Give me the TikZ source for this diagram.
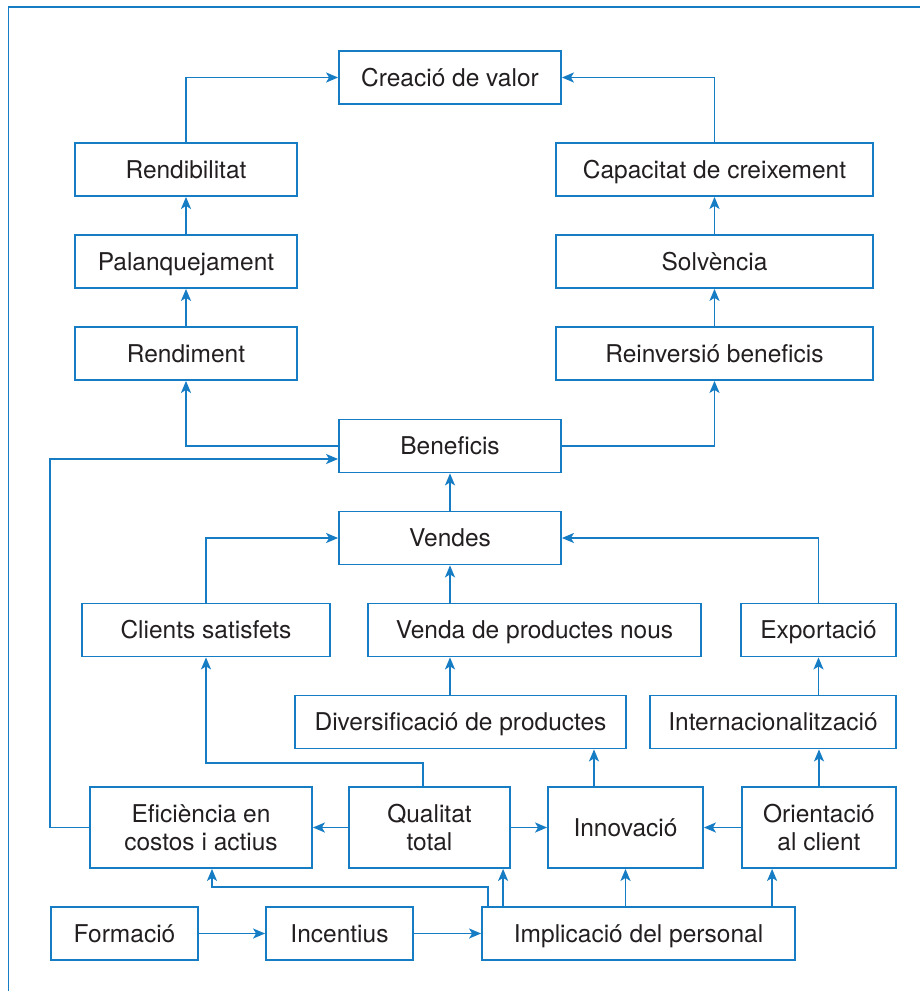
\documentclass[tikz,border=0pt]{standalone}
\usepackage{fontspec}
\setmainfont{TeX Gyre Heros}
\usetikzlibrary{arrows.meta,calc}
\definecolor{lineblue}{RGB}{22,124,196}
\definecolor{inktext}{RGB}{35,31,32}
\tikzset{
  box/.style={draw=lineblue, line width=1.8pt, rectangle, inner sep=0pt,
    text=inktext, align=center, font=\fontsize{24.5}{28}\selectfont},
  onebox/.style={box, minimum height=53pt, text height=17.6pt, text depth=0pt},
  twobox/.style={box, minimum height=81pt},
  arr/.style={draw=lineblue, line width=1.8pt,
    -{Stealth[length=12pt,width=10pt,inset=3pt]}},
  plain/.style={draw=lineblue, line width=1.8pt},
}
\begin{document}
\begin{tikzpicture}[x=1pt,y=-1pt]
\useasboundingbox (0,0) rectangle (920,991);
% frame
\draw[plain] (8.5,991) -- (8.5,7) -- (920,7);

% top chain
\node[onebox, minimum width=222pt] (creacio) at (450,77.5) {Creació de valor};
\node[onebox, minimum width=222pt] (rendib) at (186,169.5) {Rendibilitat};
\node[onebox, minimum width=222pt] (palanq) at (186,261.5) {Palanquejament};
\node[onebox, minimum width=222pt] (rendim) at (186,353.5) {Rendiment};
\node[onebox, minimum width=317pt] (capac) at (714.5,169.5) {Capacitat de creixement};
\node[onebox, minimum width=317pt] (solv) at (714.5,261.5) {Solvència};
\node[onebox, minimum width=317pt] (reinv) at (714.5,353.5) {Reinversió beneficis};
\node[onebox, minimum width=222pt] (benef) at (450,446) {Beneficis};
\node[onebox, minimum width=222pt] (vendes) at (450,538) {Vendes};

% middle rows
\node[onebox, minimum width=248pt] (clients) at (206,630) {Clients satisfets};
\node[onebox, minimum width=333pt] (venda) at (534.5,630) {Venda de productes nous};
\node[onebox, minimum width=155pt] (export) at (818.5,630) {Exportació};
\node[onebox, minimum width=331pt] (divers) at (460.5,722) {Diversificació de productes};
\node[onebox, minimum width=246pt] (intern) at (773,722) {Internacionalització};

% two-line row
\node[twobox, minimum width=222pt] (efic) at (201,827.5) {Eficiència en\\costos i actius};
\node[twobox, minimum width=161pt] (qual) at (429.5,827.5) {Qualitat\\total};
\node[twobox, minimum width=155pt] (innov) at (625.5,827.5) {Innovació};
\node[twobox, minimum width=154pt] (orient) at (819,827.5) {Orientació\\al client};

% bottom row
\node[onebox, minimum width=147pt] (form) at (124.5,933.5) {Formació};
\node[onebox, minimum width=147pt] (incent) at (339.5,933.5) {Incentius};
\node[onebox, minimum width=313pt] (implic) at (638.5,933.5) {Implicació del personal};

% upper connectors
\draw[arr] (rendib.north) |- (creacio.west);
\draw[arr] (capac.north) |- (creacio.east);
\draw[arr] (palanq.north) -- (rendib.south);
\draw[arr] (rendim.north) -- (palanq.south);
\draw[arr] (solv.north) -- (capac.south);
\draw[arr] (reinv.north) -- (solv.south);
\draw[arr] (benef.west) -| (rendim.south);
\draw[arr] (benef.east) -| (reinv.south);
\draw[arr] (vendes.north) -- (benef.south);

% efficiency feeds profits
\draw[arr] (efic.west) -- ++(-39,0) |- ($(benef.west)+(0,13)$);

% sales drivers
\draw[arr] (clients.north) |- (vendes.west);
\draw[arr] (export.north) |- (vendes.east);
\draw[arr] (venda.north -| vendes.south) -- (vendes.south);
\draw[arr] (divers.north -| vendes.south) -- (venda.south -| vendes.south);
\coordinate (innovtop) at ($(innov.north)+(-31.5,0)$);
\draw[arr] (innovtop) -- (innovtop |- divers.south);
\draw[arr] (orient.north) -- (orient.north |- intern.south);
\draw[arr] (export.south |- intern.north) -- (export.south);

% quality links
\coordinate (qualtop) at ($(qual.north)+(-6.5,0)$);
\draw[arr] (qualtop) -- ++(0,-23) -| (clients.south);
\draw[arr] (qual.west) -- (efic.east);
\draw[arr] (qual.east) -- (innov.west);
\draw[arr] (orient.west) -- (innov.east);

% staff involvement
\coordinate (implA) at ($(implic.north west)+(7,0)$);
\coordinate (implB) at ($(implic.north west)+(22,0)$);
\coordinate (implD) at ($(implic.north west)+(291,0)$);
\draw[arr] (implA) -- ++(0,-19) -| ($(efic.south)+(11,0)$);
\draw[arr] (implB) -- (implB |- qual.south);
\draw[arr] (innov.south |- implic.north) -- (innov.south);
\draw[arr] (implD) -- (implD |- orient.south);

% bottom chain
\draw[arr] (form.east) -- (incent.west);
\draw[arr] (incent.east) -- (implic.west);
\end{tikzpicture}
\end{document}
